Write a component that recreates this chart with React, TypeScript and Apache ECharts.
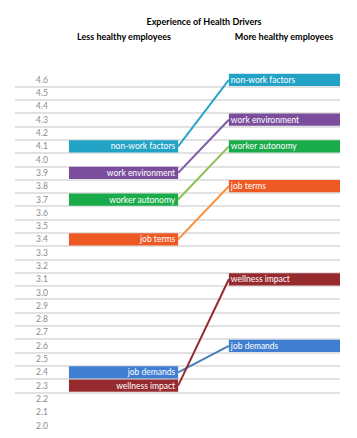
import React, { useEffect, useRef } from "react";
import * as echarts from "echarts";

const tickLabels = [
  "2.0", "2.1", "2.2", "2.3", "2.4", "2.5", "2.6", "2.7", "2.8", "2.9",
  "3.0", "3.1", "3.2", "3.3", "3.4", "3.5", "3.6", "3.7", "3.8", "3.9",
  "4.0", "4.1", "4.2", "4.3", "4.4", "4.5", "4.6",
];
const drivers = [
  "non-work factors",
  "work environment",
  "worker autonomy",
  "job terms",
  "job demands",
  "wellness impact",
];
const lessHealthy = [4.1, 3.9, 3.7, 3.4, 2.4, 2.3];
const moreHealthy = [4.6, 4.3, 4.1, 3.8, 2.6, 3.1];
const barColors = ["#22A2C5", "#7A4E9C", "#1AAB4A", "#EE5A24", "#3F7ED1", "#962A2E"];
const lineColors = ["#2AA5C8", "#7D5AA6", "#8CC152", "#F7923A", "#4A7EBB", "#952B30"];

const FONT = "Lato, 'Open Sans', sans-serif";
const L_START = 16.6;
const L_END = 50.2;
const R_START = 65.8;
const R_END = 100;

export default function App() {
  const ref = useRef<HTMLDivElement>(null);
  useEffect(() => {
    if (!ref.current) return;
    const chart = echarts.init(ref.current, undefined, { renderer: "svg" });
    const idx = (v: number) => tickLabels.indexOf(v.toFixed(1));
    chart.setOption({
      animation: false,
      backgroundColor: "#ffffff",
      grid: { left: 15, right: 17, top: 73.2, bottom: 5.8 },
      xAxis: { type: "value", min: 0, max: 100, show: false },
      yAxis: {
        type: "category",
        data: tickLabels,
        boundaryGap: true,
        axisLine: { show: false },
        axisTick: { show: false },
        axisLabel: {
          inside: true,
          margin: 21,
          interval: 0,
          color: "#8c8c8c",
          fontSize: 8.5,
          fontFamily: FONT,
        },
        splitLine: {
          show: true,
          interval: (index: number) => index >= 2,
          showMaxLine: false,
          showMinLine: false,
          lineStyle: { color: "#d9d9d9", width: 1.5 },
        },
      },
      graphic: [
        {
          type: "text",
          x: 204,
          y: 21,
          style: {
            text: "Experience of Health Drivers",
            align: "center",
            verticalAlign: "middle",
            fill: "#000",
            fontSize: 9,
            fontWeight: "bold",
            fontFamily: FONT,
          },
        },
        {
          type: "text",
          x: 124,
          y: 36,
          style: {
            text: "Less healthy employees",
            align: "center",
            verticalAlign: "middle",
            fill: "#000",
            fontSize: 9,
            fontWeight: "bold",
            fontFamily: FONT,
          },
        },
        {
          type: "text",
          x: 284,
          y: 36,
          style: {
            text: "More healthy employees",
            align: "center",
            verticalAlign: "middle",
            fill: "#000",
            fontSize: 9,
            fontWeight: "bold",
            fontFamily: FONT,
          },
        },
      ],
      series: [
        {
          type: "custom",
          encode: { y: [0, 1] },
          data: lessHealthy.map((v, i) => [idx(v), idx(moreHealthy[i])]),
          renderItem: (params: any, api: any) => {
            const i = params.dataIndex;
            const li = api.value(0);
            const ri = api.value(1);
            const band = api.size([0, 1])[1];
            const h = band * 0.92;
            const pL0 = api.coord([L_START, li]);
            const pL1 = api.coord([L_END, li]);
            const pR0 = api.coord([R_START, ri]);
            const pR1 = api.coord([R_END, ri]);
            return {
              type: "group",
              children: [
                {
                  type: "line",
                  shape: { x1: pL1[0], y1: pL1[1], x2: pR0[0], y2: pR0[1] },
                  style: { stroke: lineColors[i], lineWidth: 2 },
                },
                {
                  type: "rect",
                  shape: { x: pL0[0], y: pL0[1] - h / 2, width: pL1[0] - pL0[0], height: h },
                  style: { fill: barColors[i] },
                },
                {
                  type: "text",
                  x: pL1[0] - 3,
                  y: pL1[1],
                  style: {
                    text: drivers[i],
                    fill: "#ffffff",
                    align: "right",
                    verticalAlign: "middle",
                    fontSize: 8.5,
                    fontFamily: FONT,
                  },
                },
                {
                  type: "rect",
                  shape: { x: pR0[0], y: pR0[1] - h / 2, width: pR1[0] - pR0[0], height: h },
                  style: { fill: barColors[i] },
                },
                {
                  type: "text",
                  x: pR0[0] + 2,
                  y: pR0[1],
                  style: {
                    text: drivers[i],
                    fill: "#ffffff",
                    align: "left",
                    verticalAlign: "middle",
                    fontSize: 8.5,
                    fontFamily: FONT,
                  },
                },
              ],
            };
          },
        },
      ],
    });
    return () => chart.dispose();
  }, []);
  return (
    <div
      ref={ref}
      style={{ position: "fixed", left: 0, top: 0, width: 357, height: 438 }}
    />
  );
}
